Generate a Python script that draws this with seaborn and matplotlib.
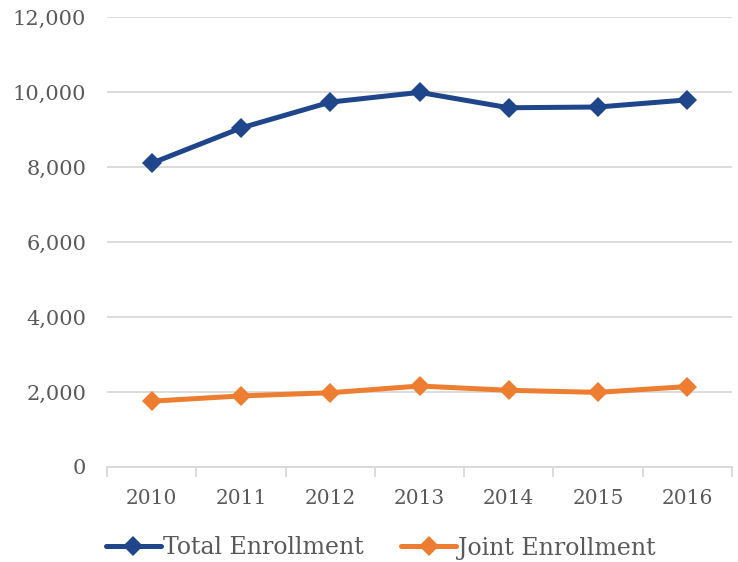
import matplotlib
matplotlib.use("Agg")
import matplotlib.pyplot as plt
import matplotlib.ticker as mticker
import seaborn as sns
import pandas as pd

years = ["2010", "2011", "2012", "2013", "2014", "2015", "2016"]
total_enrollment = [8100, 9040, 9730, 9990, 9580, 9600, 9790]
joint_enrollment = [1755, 1895, 1980, 2160, 2045, 1990, 2145]
series_names = ["Total Enrollment", "Joint Enrollment"]
series_colors = ["#1F458B", "#ED7D31"]

df = pd.DataFrame({
    "Year": years * 2,
    "Enrollment": total_enrollment + joint_enrollment,
    "Series": [series_names[0]] * len(years) + [series_names[1]] * len(years),
})

sns.set_theme(style="white")
plt.rcParams["font.family"] = ["DejaVu Serif"]
text_color = "#595959"
grid_color = "#D9D9D9"

fig = plt.figure(figsize=(7.38, 5.62), dpi=100)
ax = fig.add_axes([107 / 738, 1 - 467 / 562, 625 / 738, 450 / 562])

sns.lineplot(
    data=df, x="Year", y="Enrollment", hue="Series", style="Series",
    palette=series_colors, markers=["D", "D"], dashes=False,
    linewidth=3.6, markersize=10.5, markeredgewidth=0, ax=ax, sort=False,
)

ax.set_ylim(0, 12000)
ax.set_xlim(-0.5, len(years) - 0.5)
ax.yaxis.set_major_locator(mticker.MultipleLocator(2000))
ax.yaxis.set_major_formatter(mticker.FuncFormatter(lambda v, p: f"{int(v):,}"))
ax.yaxis.grid(True, color=grid_color, linewidth=1.3)
ax.set_axisbelow(True)

for side in ["left", "right", "top"]:
    ax.spines[side].set_visible(False)
ax.spines["bottom"].set_color(grid_color)
ax.spines["bottom"].set_linewidth(1.3)

# category boundaries carry the tick marks; labels sit between them
ax.set_xticks([i - 0.5 for i in range(len(years) + 1)], minor=False)
ax.set_xticklabels([])
ax.set_xticks(range(len(years)), minor=True)
ax.set_xticklabels(years, minor=True)
ax.tick_params(axis="x", which="major", bottom=True, length=7, width=1.3,
               color=grid_color, direction="out")
ax.tick_params(axis="x", which="minor", bottom=True, length=0, pad=16,
               labelsize=14.5, labelcolor=text_color)
ax.tick_params(axis="y", length=0, pad=15, labelsize=15, labelcolor=text_color)

ax.set_xlabel("")
ax.set_ylabel("")

handles, labels = ax.get_legend_handles_labels()
ax.legend(
    handles, labels, loc="center", bbox_to_anchor=(381 / 738, 1 - 548 / 562),
    bbox_transform=fig.transFigure,
    ncol=2, frameon=False, fontsize=17, labelcolor=text_color,
    handlelength=2.3, handletextpad=0.1, columnspacing=1.6,
)

fig.savefig("out.png", dpi=100)
